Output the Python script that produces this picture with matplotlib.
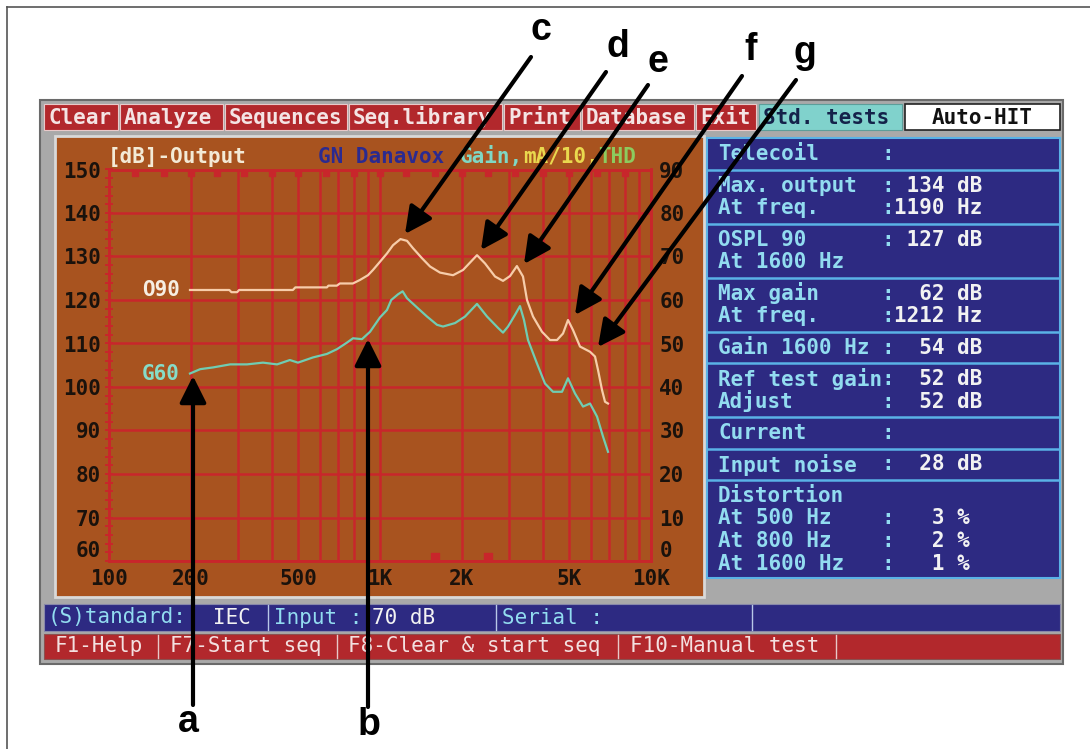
import matplotlib
matplotlib.use("Agg")
import matplotlib.pyplot as plt
import matplotlib.patches as patches
from matplotlib.ticker import MultipleLocator, NullFormatter

W, H = 1090, 749
MONO = "DejaVu Sans Mono"
CW = 15 * 100 / 72 * 0.602  # width of one mono character in px

# ---- curve data ----
o90_freq = [199, 278, 283, 297, 302, 477, 487, 637, 645, 693, 711, 794, 843, 903, 942,
            1000, 1061, 1117, 1190, 1258, 1324, 1429, 1530, 1665, 1860, 2025, 2280, 2441,
            2657, 2844, 3018, 3200, 3370, 3487, 3670, 3960, 4240, 4500, 4735, 4940, 5155,
            5470, 5957, 6215, 6376, 6596, 6766, 6940]
o90_db = [122.3, 122.3, 121.8, 121.8, 122.3, 122.3, 122.9, 122.9, 123.3, 123.3, 123.8, 123.8,
          124.6, 125.7, 126.9, 128.8, 130.7, 132.6, 134.0, 133.6, 131.9, 129.6, 127.7, 126.3,
          125.7, 126.9, 130.3, 128.4, 125.4, 124.4, 125.5, 127.8, 125.4, 120.0, 116.2, 112.7,
          110.8, 110.8, 112.3, 115.4, 113.1, 109.3, 108.1, 107.0, 103.9, 99.3, 96.6, 96.2]

g60_freq = [199, 217, 242, 280, 323, 370, 417, 465, 498, 566, 637, 694, 755, 795, 858, 919,
            1000, 1061, 1100, 1165, 1212, 1258, 1369, 1491, 1623, 1708, 1892, 2060, 2280,
            2483, 2725, 2844, 2968, 3150, 3285, 3399, 3517, 3796, 4062, 4350, 4695, 4940,
            5244, 5612, 5957, 6322, 6652, 6940]
g60_gain = [43.1, 44.1, 44.5, 45.2, 45.2, 45.6, 45.2, 46.2, 45.6, 46.8, 47.6, 48.7, 50.2,
            51.2, 51.0, 52.7, 56.0, 57.7, 60.0, 61.3, 62.0, 60.4, 58.3, 56.2, 54.3, 53.9,
            54.7, 56.2, 59.1, 56.2, 53.6, 52.5, 53.9, 56.6, 58.6, 55.4, 50.8, 45.4, 40.8,
            38.9, 38.9, 42.0, 38.5, 35.5, 36.2, 33.2, 28.6, 25.1]

x_major = [100, 200, 500, 1000, 2000, 5000, 10000]
x_labels = ["100", "200", "500", "1K", "2K", "5K", "10K"]
x_minor = [300, 400, 600, 700, 800, 900, 3000, 4000, 6000, 7000, 8000, 9000]
out_ticks = [60, 70, 80, 90, 100, 110, 120, 130, 140, 150]
gain_ticks = [0, 10, 20, 30, 40, 50, 60, 70, 80, 90]
third_octave = [125, 160, 200, 250, 315, 400, 500, 630, 800, 1000, 1250, 1600, 2000,
                2500, 3150, 4000, 5000, 6300, 8000]
thd_freq = [1600, 2500]

menu_items = ["Clear", "Analyze", "Sequences", "Seq.library", "Print", "Database", "Exit"]
menu_edges = [44, 120, 225, 349, 504, 582, 696, 758]

info_labels = ["Telecoil", "Max. output", "At freq.", "OSPL 90", "At 1600 Hz", "Max gain",
               "At freq.", "Gain 1600 Hz", "Ref test gain", "Adjust", "Current",
               "Input noise", "Distortion", "At 500 Hz", "At 800 Hz", "At 1600 Hz"]
info_values = ["", " 134 dB", "1190 Hz", " 127 dB", None, "  62 dB", "1212 Hz", "  54 dB",
               "  52 dB", "  52 dB", "", "  28 dB", None, "   3 %", "   2 %", "   1 %"]
info_new_section = [True, True, False, True, False, True, False, True, True, False, True,
                    True, True, False, False, False]

status_items = [("(S)tandard:", "cyan"), ("IEC", "white"), ("Input :", "cyan"),
                ("70 dB", "white"), ("Serial :", "cyan")]
fkey_items = ["F1-Help", "F7-Start seq", "F8-Clear & start seq", "F10-Manual test"]

# colours
ORANGE = "#A8531F"
GRID = "#C8262B"
MENU_RED = "#B2282C"
NAVY = "#2D2A82"
SEP_BLUE = "#5AB2E6"
CYAN_TXT = "#92DCF0"
WHITE_TXT = "#F2F2F2"
O90_COL = "#F7CDAA"
G60_COL = "#70CDB2"

plt.rcParams["font.family"] = MONO
plt.rcParams["font.weight"] = "bold"

fig = plt.figure(figsize=(W / 100, H / 100), dpi=100)
fig.patch.set_facecolor("white")

bg = fig.add_axes([0, 0, 1, 1])
bg.set_xlim(0, W)
bg.set_ylim(H, 0)
bg.axis("off")


def box(x0, y0, x1, y1, fc, ec="none", lw=0.0, z=1):
    bg.add_patch(patches.Rectangle((x0, y0), x1 - x0, y1 - y0, facecolor=fc,
                                   edgecolor=ec, linewidth=lw, zorder=z))


def txt(x, y, s, color, size=15, weight="bold", ha="left"):
    bg.text(x, y, s, color=color, fontsize=size, fontweight=weight, ha=ha, va="center",
            family=MONO, zorder=5)


# outer picture frame (top and left only)
bg.plot([7, W], [7, 7], color="#555555", lw=1.2, zorder=1)
bg.plot([7, 7], [7, H], color="#555555", lw=1.2, zorder=1)

# screen frame
box(40, 100, 1063, 664, "#A9A9A9", "#6A6A6A", 1.5)

# menu bar
for i, item in enumerate(menu_items):
    box(menu_edges[i], 104, menu_edges[i + 1] - 2, 130, MENU_RED, "#E9C9C9", 0.8, z=2)
    txt(menu_edges[i] + 4, 117.5, item, "#F4E4E4")
box(759, 104, 902, 130, "#80D2CC", "#5C9E9A", 0.8, z=2)
txt(763, 117.5, "Std. tests", "#14224A")
box(905, 104, 1060, 130, "white", "#222222", 1.2, z=2)
txt(982, 117.5, "Auto-HIT", "#111111", ha="center")

# chart panel
box(55, 136, 704, 597, ORANGE, "#D9D9D9", 2.0, z=2)
txt(108, 157, "[dB]-Output", "#F3EAD6")
txt(318, 157, "GN Danavox", "#2B2A90")
txt(460, 157, "Gain,", "#7FD8C4")
txt(460 + 5 * CW, 157, "mA/10,", "#E9D84E")
txt(460 + 11 * CW, 157, "THD", "#8CCB5E")

# info panel
box(707, 138, 1060, 578, NAVY, SEP_BLUE, 1.5, z=2)
ys = []
y = 154 - 31.5
for new in info_new_section:
    y += 31.5 if new else 22.5
    ys.append(y)
for i in range(1, len(ys)):
    if info_new_section[i]:
        sy = (ys[i - 1] + ys[i]) / 2
        bg.plot([708, 1059], [sy, sy], color=SEP_BLUE, lw=1.8, zorder=3)
for lab, val, yy in zip(info_labels, info_values, ys):
    txt(718, yy, lab, CYAN_TXT)
    if val is not None:
        txt(718 + 13 * CW, yy, ":", CYAN_TXT)
        if val:
            txt(718 + 14 * CW, yy, val, WHITE_TXT)

# status bar
box(44, 604, 1060, 631, NAVY, "#8888AA", 0.8, z=2)
status_x = [48, 213, 274, 372, 502]
for (s, c), sx in zip(status_items, status_x):
    txt(sx, 617.5, s, CYAN_TXT if c == "cyan" else WHITE_TXT, weight="normal")
for sx in [268, 496, 752]:
    bg.plot([sx, sx], [605, 630], color="#B8C8E8", lw=1.0, zorder=3)

# function key bar
box(44, 634, 1060, 659, MENU_RED, "#8A5050", 0.8, z=2)
fkey_x = [55, 170, 348, 630]
for s, fx in zip(fkey_items, fkey_x):
    txt(fx, 646.5, s, "#F3E0E0", weight="normal")
for sx in [158, 337, 618, 836]:
    bg.plot([sx, sx], [635, 658], color="#E8C8C8", lw=1.0, zorder=3)

# ---- chart axes ----
L, R, T, B = 109, 651, 169.5, 561
ax = fig.add_axes([L / W, 1 - B / H, (R - L) / W, (B - T) / H])
ax.set_facecolor("none")
ax.set_xscale("log")
ax.set_xlim(100, 10000)
ax.set_ylim(60, 150)
ax.set_xticks(x_major, x_labels)
ax.set_xticks(x_minor, minor=True)
ax.xaxis.set_minor_formatter(NullFormatter())
ax.set_yticks(out_ticks)
ax.yaxis.set_minor_locator(MultipleLocator(2))
ax.grid(True, which="both", axis="x", color=GRID, lw=1.8)
ax.grid(True, which="major", axis="y", color=GRID, lw=1.8)
ax.set_axisbelow(True)
for sp in ax.spines.values():
    sp.set_color(GRID)
    sp.set_linewidth(1.8)
ax.tick_params(axis="x", which="both", length=0, pad=6, labelsize=15, labelcolor="#1A120C")
ax.tick_params(axis="y", which="both", direction="inout", length=6, width=1.4, color=GRID,
               pad=3, labelsize=15, labelcolor="#1A120C")

ax.plot(third_octave, [149.3] * len(third_octave), "s", ms=4.5, color=GRID, clip_on=False)
ax.plot(thd_freq, [60.9] * len(thd_freq), "s", ms=6, color=GRID, clip_on=False)
ax.plot(o90_freq, o90_db, color=O90_COL, lw=1.6, zorder=4)
ax.text(183, o90_db[0], "O90", color="#F6EEE2", fontsize=15, fontweight="bold",
        ha="right", va="center")

ax2 = ax.twinx()
ax2.set_facecolor("none")
ax2.set_ylim(0, 90)
ax2.set_yticks(gain_ticks)
for sp in ax2.spines.values():
    sp.set_color(GRID)
    sp.set_linewidth(1.8)
ax2.tick_params(axis="y", length=0, pad=6, labelsize=15, labelcolor="#1A120C")
ax2.plot(g60_freq, g60_gain, color=G60_COL, lw=1.6, zorder=4)
ax2.text(183, g60_gain[0], "G60", color="#86DCC8", fontsize=15, fontweight="bold",
         ha="right", va="center")

# lowest y labels sit a little above the bottom line, as on the screen
ax.yaxis.get_major_ticks()[0].label1.set_verticalalignment("bottom")
ax2.yaxis.get_major_ticks()[0].label2.set_verticalalignment("bottom")

# ---- annotation arrows and letters ----
top = fig.add_axes([0, 0, 1, 1], zorder=10)
top.set_xlim(0, W)
top.set_ylim(H, 0)
top.axis("off")
top.patch.set_alpha(0)

arrows = {"c": ((531, 57), (405, 234), (541, 30)),
          "d": ((606, 72), (481, 250), (618, 47)),
          "e": ((648, 85), (524, 264), (658, 62)),
          "f": ((742, 76), (575, 315), (751, 50)),
          "g": ((796, 80), (598, 347), (805, 53)),
          "a": ((193, 705), (193, 376), (188, 722)),
          "b": ((368, 707), (368, 339), (369, 725))}
for letter, (tail, tip, pos) in arrows.items():
    top.annotate("", xy=tip, xytext=tail,
                 arrowprops=dict(arrowstyle="-|>,head_length=0.9,head_width=0.45",
                                 lw=3, color="black", mutation_scale=18,
                                 shrinkA=0, shrinkB=0))
    top.text(pos[0], pos[1], letter, fontsize=27, fontweight="bold", color="black",
             family=["Liberation Sans Narrow", "Liberation Sans"], ha="center", va="center")

fig.savefig("out.png", dpi=100, facecolor="white")
